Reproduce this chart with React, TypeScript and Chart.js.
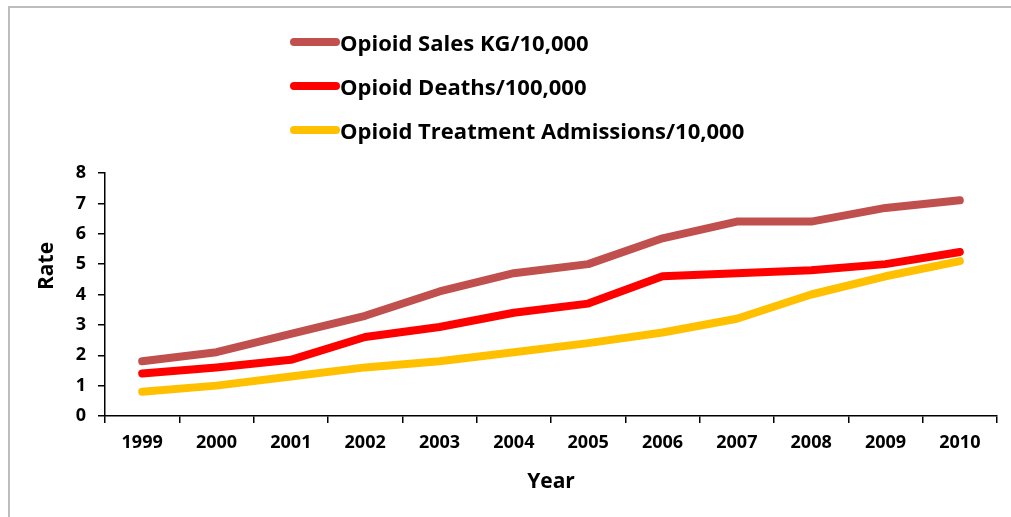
import React, { useEffect, useRef } from "react";
import { Chart, registerables } from "chart.js";

Chart.register(...registerables);

const years = ["1999", "2000", "2001", "2002", "2003", "2004", "2005", "2006", "2007", "2008", "2009", "2010"];
const salesKg = [1.8, 2.1, 2.7, 3.3, 4.1, 4.7, 5.0, 5.85, 6.4, 6.4, 6.85, 7.1];
const deaths = [1.4, 1.6, 1.85, 2.6, 2.93, 3.4, 3.7, 4.6, 4.7, 4.8, 5.0, 5.4];
const treatment = [0.8, 1.0, 1.3, 1.6, 1.8, 2.1, 2.4, 2.75, 3.2, 4.0, 4.6, 5.1];
const seriesLabels = ["Opioid Sales KG/10,000", "Opioid Deaths/100,000", "Opioid Treatment Admissions/10,000"];
const seriesColors = ["#C0504D", "#FF0000", "#FFC000"];
const yTitle = "Rate";
const xTitle = "Year";

const FONT = "'Open Sans', Lato, sans-serif";

const rateTitlePlugin = {
  id: "rateTitle",
  afterDraw(chart: any) {
    const ctx = chart.ctx;
    ctx.save();
    ctx.translate(47, 266);
    ctx.rotate(-Math.PI / 2);
    ctx.font = `bold 21px ${FONT}`;
    ctx.fillStyle = "#000";
    ctx.textAlign = "center";
    ctx.textBaseline = "middle";
    ctx.fillText(yTitle, 0, 0);
    ctx.restore();
  },
};

export default function App() {
  const canvasRef = useRef<HTMLCanvasElement | null>(null);

  useEffect(() => {
    const canvas = canvasRef.current;
    if (!canvas) return;
    const seriesData = [salesKg, deaths, treatment];
    const chart = new Chart(canvas, {
      type: "line",
      data: {
        labels: years,
        datasets: seriesData.map((d, i) => ({
          label: seriesLabels[i],
          data: d,
          borderColor: seriesColors[i],
          backgroundColor: seriesColors[i],
          borderWidth: 8,
          borderCapStyle: "round",
          borderJoinStyle: "round",
          pointRadius: 0,
          tension: 0,
          fill: false,
        })),
      },
      options: {
        responsive: false,
        animation: false,
        layout: { padding: { top: 173, right: 14, left: 0, bottom: 0 } },
        plugins: {
          legend: { display: false },
          tooltip: { enabled: false },
        },
        scales: {
          x: {
            offset: true,
            grid: {
              offset: true,
              drawOnChartArea: false,
              drawTicks: true,
              tickLength: 7,
              color: "#000",
              lineWidth: 1.5,
            },
            border: { color: "#000", width: 1.5 },
            ticks: {
              color: "#000",
              font: { family: FONT, size: 18, weight: "bold" },
              padding: 9,
              maxRotation: 0,
            },
            title: {
              display: true,
              text: xTitle,
              color: "#000",
              font: { family: FONT, size: 21, weight: "bold" },
              padding: { top: 0, bottom: 22 },
            },
            afterFit(scale: any) {
              scale.height = 101;
            },
          },
          y: {
            min: 0,
            max: 8,
            grid: {
              drawOnChartArea: false,
              drawTicks: true,
              tickLength: 7,
              color: "#000",
              lineWidth: 1.5,
            },
            border: { color: "#000", width: 1.5 },
            ticks: {
              stepSize: 1,
              color: "#000",
              font: { family: FONT, size: 18, weight: "bold" },
              padding: 12,
            },
            afterFit(scale: any) {
              scale.width = 105;
            },
          },
        },
      },
      plugins: [rateTitlePlugin],
    } as any);
    return () => chart.destroy();
  }, []);

  return (
    <div
      style={{
        position: "fixed",
        left: 0,
        top: 0,
        width: 1011,
        height: 517,
        overflow: "hidden",
        background: "#fff",
      }}
    >
      <div
        style={{
          position: "absolute",
          left: 8,
          top: 6,
          width: 1200,
          height: 700,
          border: "2px solid #bdbdbd",
          boxSizing: "border-box",
        }}
      />
      <canvas
        ref={canvasRef}
        width={1011}
        height={517}
        style={{ position: "absolute", left: 0, top: 0, width: 1011, height: 517 }}
      />
      {seriesLabels.map((label, i) => (
        <div
          key={label}
          style={{
            position: "absolute",
            left: 290,
            top: 42 + i * 44 - 15,
            height: 30,
            display: "flex",
            alignItems: "center",
            whiteSpace: "nowrap",
          }}
        >
          <div
            style={{
              width: 50,
              height: 8,
              borderRadius: 4,
              background: seriesColors[i],
            }}
          />
          <span
            style={{
              fontFamily: FONT,
              fontWeight: "bold",
              fontSize: 22,
              color: "#000",
              marginLeft: 0,
              lineHeight: "30px",
            }}
          >
            {label}
          </span>
        </div>
      ))}
    </div>
  );
}
